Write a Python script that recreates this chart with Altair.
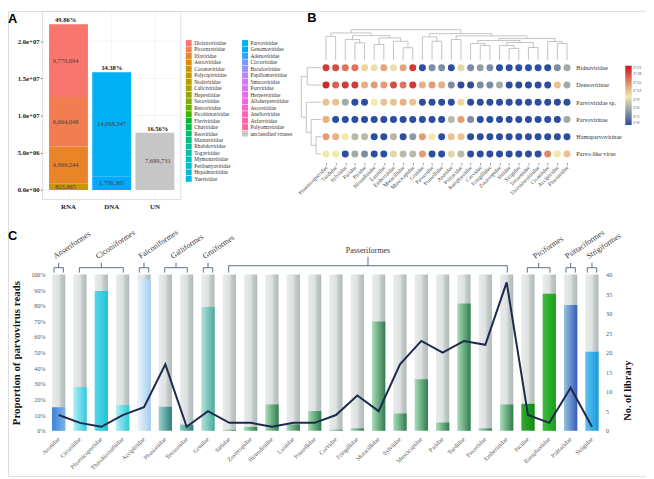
import math
import altair as alt
import pandas as pd

# ---------------- canvas mapping (reference px -> canvas px; page has an 8px margin) ----------------
W, H = 646, 471
def px(v):
    return v - 8
def py(v):
    return v - 8

SERIF = "Liberation Serif"
SANS = "Liberation Sans"

# ======================= DATA =======================
# ---- Panel A ----
a_types = ["RNA", "DNA", "UN"]
a_type_pct = ["49.86%", "34.38%", "16.56%"]
a_seg_type = ["RNA", "RNA", "RNA", "RNA", "DNA", "DNA", "UN"]
a_seg_family = ["Polycipiviridae", "Iflaviridae", "Picornaviridae", "Dicistroviridae",
                "Genomoviridae", "Parvoviridae", "unclassified viruses"]
a_seg_reads = [823865, 4999244, 6664048, 9779094, 1756365, 14068347, 7699731]
a_yticks = [0, 5e6, 1e7, 1.5e7, 2e7]
a_ytick_labels = ["0.0e+00", "5.0e+06", "1.0e+07", "1.5e+07", "2.0e+07"]

rna_families = ["Dicistroviridae", "Picornaviridae", "Iflaviridae", "Astroviridae", "Coronaviridae",
                "Polycipiviridae", "Nodaviridae", "Caliciviridae", "Hepeviridae", "Secoviridae",
                "Retroviridae", "Picobirnaviridae", "Flaviviridae", "Chuviridae", "Reoviridae",
                "Marnaviridae", "Rhabdoviridae", "Togaviridae", "Mymonaviridae", "Peribunyaviridae",
                "Hepadnaviridae", "Yueviridae"]
dna_families = ["Parvoviridae", "Genomoviridae", "Adenoviridae", "Circoviridae", "Baculoviridae",
                "Papillomaviridae", "Smacoviridae", "Poxviridae", "Herpesviridae", "Alloherpesviridae",
                "Ascoviridae", "Anelloviridae", "Asfarviridae", "Polyomaviridae", "unclassified viruses"]

# ---- Panel B ----
b_cols = ["Phoenicopteridae", "Turdidae", "Sylviidae", "Paridae", "Picidae", "Hirundinidae", "Laniidae",
          "Emberizidae", "Motacillidae", "Muscicapidae", "Gruidae", "Passeridae", "Prunellidae", "Anatidae",
          "Psittacidae", "Ramphastidae", "Corvidae", "Fringillidae", "Zosteropidae", "Sittidae", "Strigidae",
          "Tetraonidae", "Threskiornithidae", "Ciconiidae", "Accipitridae", "Phasianidae"]
b_rows = ["Bidnaviridae", "Densovirinae", "Parvoviridae sp.", "Parvovirinae", "Hamaparvovirinae",
          "Parvo-like virus"]
# log2(reads) per family
b_bidna = [19, 18, 16, 16, 11, 9.5, 13.5, 9.5, 13.5, 19, 0, 4, 4, 0, 9, 4, 5, 4, 0, 0, 0, 0, 0, 0, 4, 6]
b_denso = [20, 17, 19, 19, 13, 14, 14, 18, 16, 19, 13, 14, 13, 4, 0, 0, 4, 4, 6, 0, 0, 0, 0, 0, 12, 6]
b_parvo_sp = [12, 12, 6, 0, 0, 10, 12, 12, 13, 12, 0, 0, 0, 0, 11, 0, 0, 0, 0, 0, 0, 0, 0, 0, 0, 0]
b_parvovirinae = [13, 0, 0, 0, 0, 0, 0, 0, 0, 0, 0, 0, 0, 7, 14, 4, 0, 0, 0, 0, 0, 0, 0, 0, 0, 6]
b_hamapar = [14, 13, 10, 7, 7, 0, 0, 7, 0, 5, 14, 10, 0, 12, 12, 0, 0, 0, 0, 0, 0, 0, 0, 0, 0, 0]
b_parvolike = [10, 10, 0, 6, 4, 0, 0, 9, 7, 7, 14, 0, 0, 9, 7, 0, 0, 0, 0, 0, 0, 0, 0, 15, 10, 12]
b_legend_vals = [0, 3, 6, 9, 12, 15, 18, 21]
# dendrograms: (height, left, right), leaves = column / row index
b_col_tree = (31, (27.7, (24.3, 0, 1),
                   (25, (21, 2, (17.7, 3, 4)),
                        (22.7, (16, 5, 6), (19.3, 7, (12.7, 8, 9))))),
                  (27, (23.7, 10, (19.3, 11, 12)),
                       (24.7, (21, 13, 14),
                        (22, (20, (17, 15, (15, 16, 17)),
                                  (18, (15, 18, (12, 19, 20)), (13, 21, 22))),
                             (19, 23, (17, 24, 25))))))
b_row_tree = (20, (14, 0, 1), (15, 2, (10, 3, (5, 4, 5))))

# ---- Panel C ----
c_fams = ["Anatidae", "Ciconiidae", "Phoenicopteridae", "Threskiornithidae", "Accipitridae", "Phasianidae",
          "Tetraonidae", "Gruidae", "Sittidae", "Zosteropidae", "Hirundinidae", "Laniidae", "Prunellidae",
          "Corvidae", "Fringillidae", "Motacillidae", "Sylviidae", "Muscicapidae", "Paridae", "Turdidae",
          "Passeridae", "Emberizidae", "Picidae", "Ramphastidae", "Psittacidae", "Strigidae"]
c_prop = [15, 28, 89.5, 16.4, 96.8, 15.3, 3.8, 79.3, 0.5, 2.4, 16.8, 4, 12.6, 0.6, 1.5, 70, 11, 33,
          5.2, 81.5, 1.5, 16.8, 17.2, 87.8, 80.6, 50.5]
c_libs = [4, 2, 1, 4, 6, 17, 1, 5, 2, 2, 1, 2, 2, 4, 9, 5, 17, 23, 20, 23, 22, 38, 4, 2, 11, 1]
c_yticks = [0, 10, 20, 30, 40, 50, 60, 70, 80, 90, 100]
c_rticks = [0, 5, 10, 15, 20, 25, 30, 35, 40]
c_orders = ["Anseriformes", "Ciconiiformes", "Falconiformes", "Galliformes", "Gruiformes",
            "Passeriformes", "Piciformes", "Psittaciformes", "Strigiformes"]
c_order_first = [0, 1, 4, 5, 7, 8, 22, 24, 25]
c_order_last = [0, 3, 4, 6, 7, 21, 23, 24, 25]

# ======================= STYLES =======================
def hcl_hex(h, c=100.0, l=65.0):
    Xn, Yn, Zn = 95.047, 100.0, 108.883
    den = Xn + 15 * Yn + 3 * Zn
    un, vn = 4 * Xn / den, 9 * Yn / den
    u, v = c * math.cos(math.radians(h)), c * math.sin(math.radians(h))
    Yv = Yn * ((l + 16) / 116.0) ** 3
    up, vp = u / (13 * l) + un, v / (13 * l) + vn
    Xv = Yv * 9 * up / (4 * vp)
    Zv = Yv * (12 - 3 * up - 20 * vp) / (4 * vp)
    Xv, Yv, Zv = Xv / 100, Yv / 100, Zv / 100
    rgb = (3.2406 * Xv - 1.5372 * Yv - 0.4986 * Zv,
           -0.9689 * Xv + 1.8758 * Yv + 0.0415 * Zv,
           0.0557 * Xv - 0.2040 * Yv + 1.0570 * Zv)
    def g(t):
        t = min(max(t, 0.0), 1.0)
        return 12.92 * t if t <= 0.0031308 else 1.055 * t ** (1 / 2.4) - 0.055
    return "#%02x%02x%02x" % tuple(int(round(255 * g(t))) for t in rgb)

all_fams = rna_families + dna_families
fam_colors = [hcl_hex(15 + i * 360.0 / 37) for i in range(36)] + ["#c6c6c6"]

heat_colors = ["#2b4ea1", "#f2e8a8", "#c9161c"]

c_fill_left = (["#3f82d6", "#b4eff6", "#55d8e7", "#b0eef4", "#eef6fc", "#9dd2ce", "#84cbc3", "#b3e2dc"]
               + ["#a9ddb8"] * 14 + ["#34aa34", "#3fbd3f", "#92c2e2", "#5ec2f2"])
c_fill_right = (["#79b3ea", "#2dcadd", "#1dc3d8", "#2ccadc", "#a2cef0", "#2a7e7a", "#2b8279", "#45ac9f"]
                + ["#2f7d4c"] * 14 + ["#0f8c0f", "#17a017", "#3a5bb7", "#1a9be0"])

def hgrad(stops):
    return alt.Gradient(gradient="linear", x1=0, x2=1, y1=0, y2=0,
                        stops=[alt.GradientStop(offset=o, color=c) for o, c in stops])

layers = []

# ======================= PANEL A =======================
A_L, A_R, A_T, A_B = 43, 183, 8.5, 199
xA = dict(domain=a_types, range=[px(A_L), px(A_R)], paddingInner=0.1, paddingOuter=0.15)
yA = dict(domain=[-1.3e6, 2.40e7], range=[py(A_B), py(A_T)], nice=False, zero=False)

dfA = pd.DataFrame({"type": a_seg_type, "family": a_seg_family, "reads": a_seg_reads})
dfA["top"] = dfA.groupby("type")["reads"].cumsum()
dfA["bottom"] = dfA["top"] - dfA["reads"]
dfA["mid"] = (dfA["top"] + dfA["bottom"]) / 2
dfA["label"] = dfA["reads"].map(lambda v: f"{v:,}")
dfAT = pd.DataFrame({"type": a_types, "pct": a_type_pct})
dfAT["total"] = [dfA[dfA.type == t]["reads"].sum() for t in a_types]

lab_expr = " : ".join(f"datum.value == {v} ? '{s}'" for v, s in zip(a_yticks, a_ytick_labels)) + " : ''"

layers.append(alt.Chart(pd.DataFrame({"v": a_yticks})).mark_rule(color="#ececec", strokeWidth=0.6).encode(
    y=alt.Y("v:Q", scale=alt.Scale(**yA), axis=None),
    x=alt.value(px(A_L)), x2=alt.value(px(A_R))))
layers.append(alt.Chart(pd.DataFrame({"type": a_types})).mark_rule(color="#ececec", strokeWidth=0.6).encode(
    x=alt.X("type:N", scale=alt.Scale(**xA), axis=None),
    y=alt.value(py(A_T)), y2=alt.value(py(A_B))))
layers.append(alt.Chart(dfA).mark_bar().encode(
    x=alt.X("type:N", scale=alt.Scale(**xA),
            axis=alt.Axis(orient="bottom", offset=py(A_B) - H, title=None, tickSize=0, domain=False,
                          labelAngle=0, labelPadding=3, labelFont=SERIF, labelFontWeight="bold",
                          labelFontSize=7, labelColor="#222")),
    y=alt.Y("bottom:Q", scale=alt.Scale(**yA),
            axis=alt.Axis(orient="left", offset=-px(A_L), title=None, values=a_yticks, labelExpr=lab_expr,
                          tickSize=2, tickColor="#444", domain=False, grid=False, labelPadding=1.5,
                          labelFont=SERIF, labelFontWeight="bold", labelFontSize=6.8, labelColor="#222")),
    y2="top:Q",
    color=alt.Color("family:N", scale=alt.Scale(domain=all_fams, range=fam_colors), legend=None)))
layers.append(alt.Chart(dfA).mark_text(font=SERIF, fontSize=6.5, color="#4a3c3c").encode(
    x=alt.X("type:N", scale=alt.Scale(**xA), axis=None),
    y=alt.Y("mid:Q", scale=alt.Scale(**yA), axis=None),
    text="label:N"))
layers.append(alt.Chart(dfAT).mark_text(font=SERIF, fontSize=6.6, fontWeight="bold", color="#222", dy=-4).encode(
    x=alt.X("type:N", scale=alt.Scale(**xA), axis=None),
    y=alt.Y("total:Q", scale=alt.Scale(**yA), axis=None),
    text="pct:N"))
layers.append(alt.Chart(pd.DataFrame({"k": [0]})).mark_rect(fillOpacity=0, stroke="#d4d4d4", strokeWidth=0.8).encode(
    x=alt.value(px(A_L)), x2=alt.value(px(A_R)), y=alt.value(py(A_T)), y2=alt.value(py(A_B))))

# legend for panel A (two columns)
dfL = pd.DataFrame({"family": all_fams,
                    "col": [0] * len(rna_families) + [1] * len(dna_families),
                    "row": list(range(len(rna_families))) + list(range(len(dna_families)))})
xL = dict(domain=[0, 1], range=[px(191), px(248)], nice=False, zero=False)
yL = dict(domain=[0, 21], range=[py(40.5), py(178)], nice=False, zero=False)
layers.append(alt.Chart(dfL).mark_square(size=36, opacity=1).encode(
    x=alt.X("col:Q", scale=alt.Scale(**xL), axis=None),
    y=alt.Y("row:Q", scale=alt.Scale(**yL), axis=None),
    color=alt.Color("family:N", scale=alt.Scale(domain=all_fams, range=fam_colors), legend=None)))
layers.append(alt.Chart(dfL).mark_text(font=SERIF, fontSize=5.4, color="#333", align="left", dx=5.5).encode(
    x=alt.X("col:Q", scale=alt.Scale(**xL), axis=None),
    y=alt.Y("row:Q", scale=alt.Scale(**yL), axis=None),
    text="family:N"))

# ======================= PANEL B =======================
xB = dict(domain=b_cols, range=[px(325.1), px(578.9)], paddingInner=0, paddingOuter=0)
yB = dict(domain=b_rows, range=[py(56.8), py(161.5)], paddingInner=0, paddingOuter=0)
xBi = dict(domain=[-0.5, 25.5], range=[px(325.1), px(578.9)], nice=False, zero=False)
yBi = dict(domain=[-0.5, 5.5], range=[py(56.8), py(161.5)], nice=False, zero=False)

def dendro(node):
    if isinstance(node, int):
        return float(node), 0.0, []
    h, l, r = node
    pl, hl, sl = dendro(l)
    pr, hr, sr = dendro(r)
    segs = sl + sr + [(pl, pl, hl, h), (pr, pr, hr, h), (pl, pr, h, h)]
    return (pl + pr) / 2, h, segs

_, _, col_segs = dendro(b_col_tree)
_, _, row_segs = dendro(b_row_tree)
dfCD = pd.DataFrame(col_segs, columns=["p1", "p2", "h1", "h2"])
dfRD = pd.DataFrame(row_segs, columns=["p1", "p2", "h1", "h2"])

layers.append(alt.Chart(dfCD).mark_rule(color="#b4b4b4", strokeWidth=0.8).encode(
    x=alt.X("p1:Q", scale=alt.Scale(**xBi), axis=None), x2="p2:Q",
    y=alt.Y("h1:Q", scale=alt.Scale(domain=[0, 31], range=[py(58), py(27)], nice=False, zero=False), axis=None),
    y2="h2:Q"))
layers.append(alt.Chart(dfRD).mark_rule(color="#b4b4b4", strokeWidth=0.8).encode(
    y=alt.Y("p1:Q", scale=alt.Scale(**yBi), axis=None), y2="p2:Q",
    x=alt.X("h1:Q", scale=alt.Scale(domain=[0, 20], range=[px(325), px(305)], nice=False, zero=False), axis=None),
    x2="h2:Q"))

b_matrix = [b_bidna, b_denso, b_parvo_sp, b_parvovirinae, b_hamapar, b_parvolike]
dfB = pd.DataFrame([{"virus": r, "host": c, "log2": vals[j]}
                    for r, vals in zip(b_rows, b_matrix) for j, c in enumerate(b_cols)])
layers.append(alt.Chart(dfB).mark_circle(size=50, opacity=1).encode(
    x=alt.X("host:N", scale=alt.Scale(**xB),
            axis=alt.Axis(orient="bottom", offset=py(161.5) - H, title=None, labelAngle=315,
                          labelAlign="right", labelBaseline="middle", labelPadding=1.5, tickSize=2,
                          tickColor="#999", domain=False, labelFont=SERIF, labelFontSize=5.6,
                          labelColor="#444")),
    y=alt.Y("virus:N", scale=alt.Scale(**yB),
            axis=alt.Axis(orient="right", offset=px(579) - W, title=None, tickSize=0, domain=False,
                          labelPadding=4, labelFont=SERIF, labelFontSize=6.2, labelColor="#333",
                          labelAlign="left")),
    color=alt.Color("log2:Q",
                    scale=alt.Scale(domain=[0, 10, 21], range=heat_colors, interpolate="rgb"),
                    legend=alt.Legend(orient="none", legendX=px(633), legendY=py(63.5), title=None,
                                      direction="vertical", gradientLength=60, gradientThickness=6.5,
                                      values=b_legend_vals, labelExpr="'2^' + datum.value",
                                      labelFont=SERIF, labelFontSize=4.2, labelColor="#444",
                                      labelOffset=1.5, gradientStrokeWidth=0, tickCount=8))))

# ======================= PANEL C =======================
xC = dict(domain=c_fams, range=[px(48.5), px(610.1)], paddingInner=0.38, paddingOuter=0.19)
xCi = dict(domain=[-0.5, 25.5], range=[px(48.5), px(610.1)], nice=False, zero=False)
yC = dict(domain=[0, 100], range=[py(433), py(275)], nice=False, zero=False)
yCr = dict(domain=[0, 40], range=[py(433), py(275)], nice=False, zero=False)

dfC = pd.DataFrame({"fam": c_fams, "prop": c_prop, "libs": c_libs})
dfC["full"] = 100

gray_fill = hgrad([(0, "#e9ebeb"), (0.5, "#dfe2e2"), (0.68, "#c3caca"), (1, "#b1b9b9")])
layers.append(alt.Chart(dfC).mark_bar(fill=gray_fill).encode(
    x=alt.X("fam:N", scale=alt.Scale(**xC),
            axis=alt.Axis(orient="bottom", offset=py(436) - H, title=None, labelAngle=315,
                          labelAlign="right", labelBaseline="middle", labelPadding=4, tickSize=0,
                          domain=False, labelFont=SERIF, labelFontSize=6.2, labelColor="#555")),
    y=alt.Y("full:Q", scale=alt.Scale(**yC),
            axis=alt.Axis(orient="left", offset=-px(48.5), values=c_yticks, labelExpr="datum.value + '%'",
                          tickSize=0, domain=False, grid=False, labelPadding=3, labelFont=SERIF,
                          labelFontSize=6.2, labelColor="#555",
                          title="Proportion of parvovirus  reads", titleFont=SERIF, titleFontSize=11,
                          titleFontWeight="bold", titleColor="#111", titlePadding=9))))

for i, fam in enumerate(c_fams):
    fill = hgrad([(0, c_fill_left[i]), (1, c_fill_right[i])])
    layers.append(alt.Chart(dfC).transform_filter(alt.datum.fam == fam).mark_bar(fill=fill).encode(
        x=alt.X("fam:N", scale=alt.Scale(**xC), axis=None),
        y=alt.Y("prop:Q", scale=alt.Scale(**yC), axis=None)))

layers.append(alt.Chart(dfC).mark_line(color="#1c2a4b", strokeWidth=2).encode(
    x=alt.X("fam:N", scale=alt.Scale(**xC), axis=None),
    y=alt.Y("libs:Q", scale=alt.Scale(**yCr),
            axis=alt.Axis(orient="right", offset=px(610.1) - W, values=c_rticks, tickSize=0, domain=False,
                          grid=False, labelPadding=3, labelFont=SERIF, labelFontSize=6.2, labelColor="#555",
                          title="No. of library", titleFont=SERIF, titleFontSize=10.5, titleFontWeight="bold",
                          titleColor="#111", titleAngle=270, titleBaseline="top", titlePadding=11,
                          titleY=py(392)))))

# order brackets
dfO = pd.DataFrame({"order": c_orders, "first": c_order_first, "last": c_order_last})
single = dfO["first"] == dfO["last"]
dfO["left"] = dfO["first"] - 0.03 - 0.19 * single
dfO["right"] = dfO["last"] + 0.03 + 0.19 * single
dfO["center"] = (dfO["first"] + dfO["last"]) / 2
dfO["ytop"] = [py(257) if o == "Passeriformes" else py(263) for o in c_orders]
dfO["yline"] = [py(266) if o == "Passeriformes" else py(268) for o in c_orders]
brk = "#5c6b8c"
layers.append(alt.Chart(dfO).mark_rule(color=brk, strokeWidth=1).encode(
    x=alt.X("left:Q", scale=alt.Scale(**xCi), axis=None), x2="right:Q",
    y=alt.Y("yline:Q", scale=None)))
layers.append(alt.Chart(dfO).mark_rule(color=brk, strokeWidth=1).encode(
    x=alt.X("left:Q", scale=alt.Scale(**xCi), axis=None),
    y=alt.Y("yline:Q", scale=None), y2=alt.value(py(273))))
layers.append(alt.Chart(dfO).mark_rule(color=brk, strokeWidth=1).encode(
    x=alt.X("right:Q", scale=alt.Scale(**xCi), axis=None),
    y=alt.Y("yline:Q", scale=None), y2=alt.value(py(273))))
layers.append(alt.Chart(dfO).mark_rule(color=brk, strokeWidth=1).encode(
    x=alt.X("center:Q", scale=alt.Scale(**xCi), axis=None),
    y=alt.Y("ytop:Q", scale=None), y2="yline:Q"))
layers.append(alt.Chart(dfO).transform_filter(alt.datum.order != "Passeriformes").mark_text(
    font=SERIF, fontSize=8, color="#333", align="left", baseline="alphabetic", angle=326, dx=-4).encode(
    x=alt.X("center:Q", scale=alt.Scale(**xCi), axis=None),
    y=alt.value(py(257)), text="order:N"))
layers.append(alt.Chart(dfO).transform_filter(alt.datum.order == "Passeriformes").mark_text(
    font=SERIF, fontSize=8, color="#333", align="center", baseline="alphabetic").encode(
    x=alt.X("center:Q", scale=alt.Scale(**xCi), axis=None),
    y=alt.value(py(253)), text="order:N"))

# panel letters
for letter, lx, ly in [("A", 8, 20), ("B", 311, 19), ("C", 8, 240)]:
    layers.append(alt.Chart(pd.DataFrame({"t": [letter]})).mark_text(
        font=SANS, fontSize=13, fontWeight="bold", color="#000", align="left", baseline="alphabetic").encode(
        x=alt.value(px(lx)), y=alt.value(py(ly)), text="t:N"))

chart = alt.layer(*layers).resolve_scale(
    x="independent", y="independent", color="independent"
).properties(
    width=W, height=H, padding=0, autosize=alt.AutoSizeParams(type="none")
).configure_view(stroke=None).configure(background="white")

chart.save("out.html", embed_options={"renderer": "svg", "actions": False})
